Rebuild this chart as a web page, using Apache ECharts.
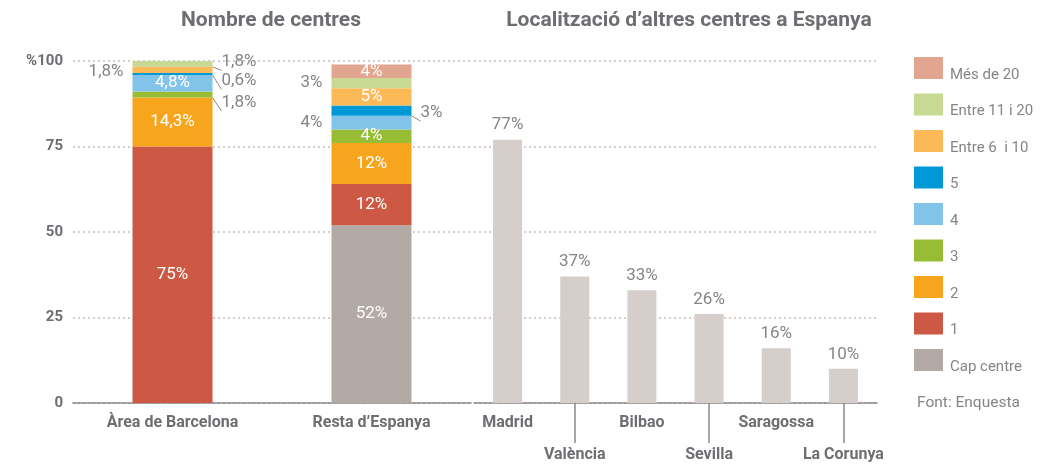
<!DOCTYPE html>
<html>
<head>
<meta charset="utf-8">
<script src="https://cdn.jsdelivr.net/npm/echarts@6/dist/echarts.min.js"></script>
<style>
    html, body { margin: 0; padding: 0; background: #fff; }
    #chart { width: 1058px; height: 467px; }
</style>
</head>
<body>
<div id="chart"></div>
<script>
// dades
const categories = ["Àrea de Barcelona", "Resta d’Espanya"];
const stackNames = ["Cap centre", "1", "2", "3", "4", "5", "Entre 6  i 10", "Entre 11 i 20", "Més de 20"];
const capCentre = [0, 52];
const un = [75, 12];
const dos = [14.3, 12];
const tres = [1.8, 4];
const quatre = [4.8, 4];
const cinc = [0.6, 3];
const entre6i10 = [1.8, 5];
const entre11i20 = [1.8, 3];
const mesDe20 = [0, 4];
const cities = ["Madrid", "València", "Bilbao", "Sevilla", "Saragossa", "La Corunya"];
const cityShare = [77, 37, 33, 26, 16, 10];
const yTicks = [0, 25, 50, 75, 100];

const stackValues = [capCentre, un, dos, tres, quatre, cinc, entre6i10, entre11i20, mesDe20];
const colors = ["#b3a9a5", "#cd5843", "#f7a51c", "#97bd35", "#82c3ea", "#0099d8", "#fbb957", "#c8d994", "#e2a590"];

// on va cada etiqueta: [barcelona, resta] -> in / left / right / "" (cap)
const labelPlace = [
    ["", "in"],
    ["in", "in"],
    ["in", "in"],
    ["right", "in"],
    ["in", "left"],
    ["right", "right"],
    ["left", "in"],
    ["right", "left"],
    ["", "in"]
];
// desplaçament vertical de les etiquetes de fora
const labelShift = [
    [0, 0], [0, 0], [0, 0], [8, 0], [0, 0], [7, 2], [2, 0], [-2, 0], [0, 0]
];
const withLine = [
    [false, false], [false, false], [false, false], [true, false], [false, false],
    [true, true], [true, false], [true, false], [false, false]
];

const grey = "#6d6e71";
const lightGrey = "#858585";
const font = "Roboto, 'DejaVu Sans', sans-serif";

function fmt(v) {
    return String(v).replace(".", ",") + "%";
}

const stackSeries = stackNames.map((name, s) => ({
    name,
    type: "bar",
    stack: "total",
    xAxisIndex: 0,
    yAxisIndex: 0,
    barWidth: 80,
    itemStyle: { color: colors[s] },
    data: stackValues[s].map((v, i) => {
        const place = labelPlace[s][i];
        if (!place) {
            return { value: v, label: { show: false } };
        }
        const inside = place === "in";
        return {
            value: v,
            label: {
                show: true,
                position: inside ? "inside" : place,
                distance: 9,
                offset: [0, labelShift[s][i]],
                color: inside ? "#fff" : lightGrey,
                fontSize: 17,
                fontFamily: font,
                formatter: fmt(v)
            },
            labelLine: {
                show: withLine[s][i],
                lineStyle: { color: "#8a8a8a", width: 1 }
            }
        };
    })
}));

const splitLine = {
    show: true,
    lineStyle: { type: [2, 3], color: "#c9bdb9", width: 1.5 }
};

const chart = echarts.init(document.getElementById("chart"));
chart.setOption({
    animation: false,
    textStyle: { fontFamily: font },
    title: [
        {
            text: "Nombre de centres",
            left: 266,
            top: 5,
            textAlign: "center",
            textStyle: { color: grey, fontSize: 21, fontWeight: "bold", fontFamily: font }
        },
        {
            text: "Localització d’altres centres a Espanya",
            left: 684,
            top: 5,
            textAlign: "center",
            textStyle: { color: grey, fontSize: 21, fontWeight: "bold", fontFamily: font }
        },
        {
            text: "Font: Enquesta",
            left: 912,
            top: 390,
            textStyle: { color: lightGrey, fontSize: 15.5, fontWeight: "normal", fontFamily: font }
        }
    ],
    legend: {
        orient: "vertical",
        left: 909,
        top: 52,
        itemWidth: 29,
        itemHeight: 22,
        itemGap: 11,
        icon: "rect",
        data: stackNames.slice().reverse(),
        formatter: (name) => "{t|" + name + "}",
        textStyle: {
            color: lightGrey,
            fontSize: 15,
            fontFamily: font,
            rich: {
                t: { color: lightGrey, fontSize: 15, fontFamily: font, padding: [14, 0, 0, 2] }
            }
        }
    },
    grid: [
        { left: 73, width: 398, top: 61, height: 342 },
        { left: 474, width: 403, top: 61, height: 342 }
    ],
    xAxis: [
        {
            type: "category",
            gridIndex: 0,
            data: categories,
            axisLine: { lineStyle: { color: "#8a8a8a", width: 1.5 } },
            axisTick: { length: 6, lineStyle: { color: "#8a8a8a", width: 1.5 } },
            axisLabel: { color: grey, fontSize: 16, fontWeight: "bold", margin: 12, fontFamily: font }
        },
        {
            type: "category",
            gridIndex: 1,
            data: cities,
            axisLine: { lineStyle: { color: "#8a8a8a", width: 1.5 } },
            axisTick: { length: 6, lineStyle: { color: "#8a8a8a", width: 1.5 } },
            axisLabel: {
                interval: 0,
                margin: 12,
                formatter: (v, i) => (i % 2 ? "{b|" + v + "}" : "{a|" + v + "}"),
                rich: {
                    a: { color: grey, fontSize: 16, fontWeight: "bold", fontFamily: font },
                    b: { color: grey, fontSize: 16, fontWeight: "bold", fontFamily: font, padding: [32, 0, 0, 0] }
                }
            }
        },
        {
            // línies llargues cap a les etiquetes de baix
            type: "category",
            gridIndex: 1,
            position: "bottom",
            offset: 0,
            data: cities,
            axisLine: { show: false },
            axisLabel: { show: false },
            axisTick: {
                show: true,
                alignWithLabel: true,
                interval: (i) => i % 2 === 1,
                length: 40,
                lineStyle: { color: "#8a8a8a", width: 1.5 }
            }
        }
    ],
    yAxis: [
        {
            type: "value",
            gridIndex: 0,
            min: 0,
            max: 100,
            interval: 25,
            axisLine: { show: false },
            axisTick: { show: false },
            splitLine,
            axisLabel: {
                color: grey,
                fontSize: 15,
                fontWeight: "bold",
                margin: 10,
                fontFamily: font,
                formatter: (v) => (v === yTicks[yTicks.length - 1] ? "%" + v : v)
            }
        },
        {
            type: "value",
            gridIndex: 1,
            min: 0,
            max: 100,
            interval: 25,
            axisLine: { show: false },
            axisTick: { show: false },
            axisLabel: { show: false },
            splitLine
        }
    ],
    series: [
        ...stackSeries,
        {
            name: "Localització",
            type: "bar",
            xAxisIndex: 1,
            yAxisIndex: 1,
            barWidth: 29,
            itemStyle: { color: "#d6ceca" },
            label: {
                show: true,
                position: "top",
                distance: 6,
                color: lightGrey,
                fontSize: 17,
                fontFamily: font,
                formatter: (p) => p.value + "%"
            },
            data: cityShare
        }
    ]
});
</script>
</body>
</html>
